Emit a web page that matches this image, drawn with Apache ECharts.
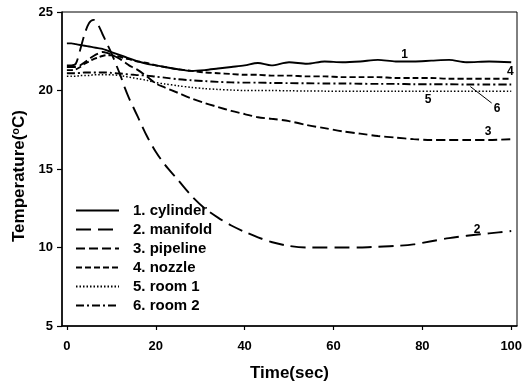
<!DOCTYPE html>
<html>
<head>
<meta charset="utf-8">
<script src="https://cdn.jsdelivr.net/npm/echarts@6/dist/echarts.min.js"></script>
<style>
  html, body { margin: 0; padding: 0; background: #fff; }
  #chart { width: 529px; height: 387px; }
</style>
</head>
<body>
<div id="chart"></div>
<script>
// Sampling instants (s) shared by all six temperature records
const time = [0, 1, 2, 3, 4, 5, 6, 7, 8, 9, 10, 11, 12, 13, 14, 15, 16, 18, 20, 22, 25, 28, 31, 34, 37, 40, 43, 46, 50, 54, 58, 62, 66, 70, 74, 78, 82, 86, 90, 95, 100];

// Temperatures (°C)
const cylinder = [23.0, 23.0, 22.95, 22.9, 22.85, 22.8, 22.75, 22.7, 22.65, 22.55, 22.45, 22.35, 22.25, 22.15, 22.05, 21.95, 21.85, 21.7, 21.6, 21.5, 21.35, 21.25, 21.3, 21.4, 21.5, 21.6, 21.75, 21.6, 21.8, 21.7, 21.85, 21.8, 21.85, 21.95, 21.85, 21.85, 21.9, 21.95, 21.8, 21.85, 21.8];
const manifold = [21.6, 21.6, 21.7, 22.6, 23.6, 24.3, 24.5, 24.2, 23.6, 23.0, 22.4, 21.7, 21.0, 20.2, 19.5, 18.9, 18.3, 17.1, 16.1, 15.3, 14.3, 13.3, 12.5, 11.9, 11.4, 11.0, 10.65, 10.35, 10.1, 10.0, 10.0, 10.0, 10.0, 10.05, 10.1, 10.2, 10.4, 10.6, 10.75, 10.9, 11.05];
const pipeline = [21.5, 21.5, 21.5, 21.6, 21.8, 22.0, 22.2, 22.35, 22.45, 22.4, 22.3, 22.15, 22.0, 21.8, 21.6, 21.45, 21.3, 20.9, 20.45, 20.2, 19.85, 19.5, 19.2, 18.95, 18.7, 18.5, 18.3, 18.2, 18.05, 17.8, 17.6, 17.4, 17.25, 17.1, 17.0, 16.9, 16.85, 16.85, 16.85, 16.85, 16.9];
const nozzle = [21.3, 21.3, 21.35, 21.5, 21.7, 21.85, 22.0, 22.1, 22.2, 22.25, 22.25, 22.2, 22.15, 22.05, 22.0, 21.9, 21.85, 21.75, 21.6, 21.5, 21.35, 21.25, 21.15, 21.1, 21.05, 21.0, 21.0, 20.95, 20.95, 20.9, 20.9, 20.85, 20.85, 20.85, 20.8, 20.8, 20.8, 20.75, 20.75, 20.75, 20.75];
const room1 = [20.9, 20.9, 20.9, 20.95, 20.95, 20.95, 21.0, 21.0, 21.0, 21.0, 21.0, 20.98, 20.95, 20.9, 20.85, 20.8, 20.75, 20.65, 20.5, 20.42, 20.3, 20.2, 20.12, 20.07, 20.03, 20.0, 20.0, 20.0, 19.98, 19.97, 19.96, 19.95, 19.95, 19.95, 19.95, 19.95, 19.95, 19.95, 19.95, 19.95, 19.95];
const room2 = [21.1, 21.1, 21.1, 21.12, 21.15, 21.15, 21.15, 21.15, 21.15, 21.15, 21.12, 21.1, 21.08, 21.05, 21.02, 21.0, 20.98, 20.95, 20.88, 20.82, 20.72, 20.65, 20.6, 20.55, 20.52, 20.5, 20.5, 20.48, 20.47, 20.46, 20.45, 20.45, 20.43, 20.42, 20.42, 20.4, 20.4, 20.4, 20.38, 20.38, 20.38];

// Tick labels
const xTicks = [0, 20, 40, 60, 80, 100];

// Curve numbers written next to the lines: [time, temperature]
const tagCylinder = [76, 22.3];
const tagManifold = [92.3, 11.15];
const tagPipeline = [94.8, 17.35];
const tagNozzle = [99.8, 21.2];
const tagRoom1 = [81.3, 19.4];
const tagRoom2 = [96.8, 18.85];
const room2Pointer = [[90.8, 20.25], [95.6, 19.2]];

const pair = (ys) => time.map((t, i) => [t, ys[i]]);
const bold = 'Liberation Sans';

function tag(coord, text) {
  return {
    symbol: 'circle',
    symbolSize: 0,
    silent: true,
    label: { show: true, position: 'inside', color: '#000', fontFamily: bold, fontWeight: 'bold', fontSize: 12 },
    data: [{ coord: coord, value: text }]
  };
}

function line(name, ys, dash, coord, text) {
  return {
    name: name,
    type: 'line',
    data: pair(ys),
    showSymbol: false,
    symbol: 'none',
    smooth: 0.3,
    lineStyle: { color: '#000', width: 1.9, type: dash },
    itemStyle: { color: '#000' },
    markPoint: tag(coord, text),
    z: 3
  };
}

const series = [
  line('1. cylinder', cylinder, 'solid', tagCylinder, '1'),
  line('2. manifold', manifold, [15, 7], tagManifold, '2'),
  line('3. pipeline', pipeline, [9, 4], tagPipeline, '3'),
  line('4. nozzle', nozzle, [6, 3], tagNozzle, '4'),
  line('5. room 1', room1, [1.5, 2], tagRoom1, '5'),
  line('6. room 2', room2, [8, 3, 2, 3], tagRoom2, '6')
];
series[4].lineStyle.width = 1.5;
series[5].markLine = {
  silent: true,
  symbol: 'none',
  label: { show: false },
  lineStyle: { color: '#000', width: 1, type: 'solid' },
  data: [[{ coord: room2Pointer[0] }, { coord: room2Pointer[1] }]]
};

const chart = echarts.init(document.getElementById('chart'), null, { renderer: 'canvas' });
chart.setOption({
  animation: false,
  backgroundColor: '#fff',
  grid: {
    left: 62, right: 12, top: 12, bottom: 59,
    show: true, borderColor: '#000', borderWidth: 1, backgroundColor: 'transparent'
  },
  legend: {
    orient: 'vertical',
    left: 75,
    top: 203,
    padding: 0,
    itemWidth: 43,
    itemHeight: 12,
    itemGap: 4,
    itemStyle: { opacity: 0 },
    textStyle: { color: '#000', fontFamily: bold, fontWeight: 'bold', fontSize: 15, lineHeight: 15, padding: [0, 0, 0, 9] },
    data: series.map(s => s.name)
  },
  xAxis: {
    type: 'value',
    min: -1.1,
    max: 101.3,
    name: 'Time(sec)',
    nameLocation: 'middle',
    nameGap: 39,
    nameTextStyle: { color: '#000', fontFamily: bold, fontWeight: 'bold', fontSize: 17 },
    axisLine: { show: true, onZero: false, lineStyle: { color: '#000', width: 1.5 } },
    axisTick: { show: true, customValues: xTicks, length: 4, lineStyle: { color: '#000', width: 1.2 } },
    axisLabel: { customValues: xTicks, color: '#000', fontFamily: bold, fontWeight: 'bold', fontSize: 13, margin: 14 },
    splitLine: { show: false }
  },
  yAxis: {
    type: 'value',
    min: 5,
    max: 25,
    interval: 5,
    name: 'Temperature({sup|o}C)',
    nameLocation: 'middle',
    nameRotate: 90,
    nameGap: 31,
    nameTextStyle: {
      color: '#000', fontFamily: bold, fontWeight: 'bold', fontSize: 17,
      padding: [0, 14, 0, 0],
      rich: { sup: { fontFamily: bold, fontWeight: 'bold', fontSize: 11, verticalAlign: 'top', padding: [0, 0, 7, 0], color: '#000' } }
    },
    axisLine: { show: true, onZero: false, lineStyle: { color: '#000', width: 1.5 } },
    axisTick: { show: true, length: 5, lineStyle: { color: '#000', width: 1.2 } },
    axisLabel: { color: '#000', fontFamily: bold, fontWeight: 'bold', fontSize: 13, margin: 9 },
    splitLine: { show: false }
  },
  series: series
});
</script>
</body>
</html>
